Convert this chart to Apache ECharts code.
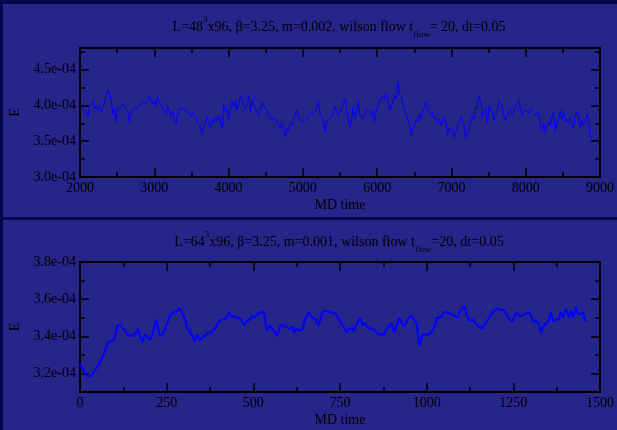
<!DOCTYPE html>
<html>
<head>
<meta charset="utf-8">
<script src="https://cdn.jsdelivr.net/npm/echarts@6/dist/echarts.min.js"></script>
<style>
  html, body { margin: 0; padding: 0; background: #25258a; }
  #chart { width: 617px; height: 430px; }
</style>
</head>
<body>
<div id="chart"></div>
<script>
// upper run: E in units of 1e-4, sampled every ~22.3 MD time units from 2018
const topTimeStart = 2018
const topTimeStep = 22.31
const topEnergy = [
  3.98, 3.95, 3.96, 3.91, 3.84, 3.98, 4.02, 4.07, 3.95, 3.98,
  3.93, 4.00, 3.91, 3.95, 3.93, 4.14, 4.21, 4.16, 4.05, 3.88,
  3.95, 3.77, 3.98, 3.95, 4.00, 3.98, 4.00, 3.95, 3.91, 3.77,
  3.93, 3.91, 3.95, 3.98, 3.95, 4.00, 4.02, 4.05, 4.02, 4.00,
  4.05, 4.14, 4.09, 4.02, 4.07, 3.98, 4.12, 4.05, 4.02, 3.95,
  3.91, 3.88, 4.00, 3.91, 3.86, 3.93, 3.81, 3.73, 3.86, 3.95,
  3.96, 3.95, 3.93, 3.95, 3.91, 3.93, 3.84, 3.91, 3.86, 3.84,
  3.77, 3.79, 3.68, 3.61, 3.72, 3.70,
  3.84, 3.75, 3.68, 3.81, 3.75, 3.84, 3.77, 3.86, 3.75, 3.68,
  4.00, 3.91, 3.95, 3.81, 3.98, 4.05, 3.98, 4.07, 3.93, 3.95,
  4.14, 4.07, 4.05, 3.95, 4.00, 4.14, 3.91, 4.07, 4.00, 3.98,
  3.91, 3.86, 3.93, 4.05, 4.00, 3.98, 3.93, 3.84, 3.81, 3.84,
  3.79, 3.77, 3.81, 3.72, 3.68, 3.75, 3.65, 3.56, 3.68, 3.65,
  3.75, 3.72, 3.81, 3.86, 3.93, 3.84, 3.86, 3.77, 3.75, 3.79,
  3.77, 3.84, 3.88, 3.86, 3.88, 3.91, 3.93, 4.05, 3.88, 3.86,
  3.79, 3.63, 3.77, 3.79, 3.81, 3.84, 3.84, 3.98,
  3.93, 3.86, 3.91, 3.93, 4.00, 4.09, 3.95, 3.81, 3.70, 3.79,
  3.98, 3.81, 3.91, 4.05, 3.86, 3.88, 3.81, 3.88, 3.95, 3.93,
  3.91, 3.84, 3.93, 3.77, 3.93, 3.95, 4.07, 4.05, 4.14, 4.09,
  4.16, 4.07, 3.93, 3.98, 4.05, 4.14, 4.09, 4.32, 4.16, 4.12,
  4.02, 3.93, 3.86, 3.84, 3.75, 3.58, 3.68, 3.72, 3.81, 3.77,
  3.88, 3.81, 3.91, 3.93, 4.05, 3.95, 3.93, 3.86, 3.91, 3.81,
  3.84, 3.75, 3.81, 3.72, 3.77, 3.84, 3.77, 3.58, 3.68, 3.70,
  3.65, 3.54, 3.63, 3.70, 3.77, 3.84, 3.79, 3.70,
  3.54, 3.61, 3.68, 3.79, 3.84, 3.81, 3.98, 3.95, 4.14, 4.05,
  3.84, 3.91, 3.95, 3.75, 3.98, 3.95, 3.91, 3.79, 3.81, 3.95,
  4.07, 4.09, 3.98, 3.84, 3.79, 3.86, 3.91, 3.95, 3.88, 3.86,
  3.98, 4.02, 4.07, 3.95, 3.86, 3.91, 3.91, 3.93, 3.88, 3.95,
  3.93, 3.91, 3.86, 3.91, 3.88, 3.72, 3.65, 3.75, 3.63, 3.70,
  3.77, 3.72, 3.84, 3.91, 3.63, 3.75, 3.81, 3.93, 3.81, 3.91,
  3.77, 3.81, 3.75, 3.84, 3.86, 3.68, 3.86, 3.91, 3.84, 3.70,
  3.79, 3.72, 3.77, 3.88, 3.81, 3.56, 3.54
]

// lower run: MD time and E (units of 1e-4)
const bottomTime = [
  1, 6, 15, 25, 30, 34, 44, 54, 60, 68, 76, 82, 87, 97, 101, 108, 116, 120, 130, 140,
  147, 154, 162, 168, 173, 180, 187, 194, 202, 209, 219, 226, 230, 238, 245, 251, 259, 269, 278, 286,
  291, 297, 305, 310, 316, 324, 331, 338, 345, 350, 359, 369, 379, 388, 398, 407, 417, 424, 429, 436,
  443, 448, 455, 465, 474, 481, 489, 496, 503, 512, 522, 530, 534, 539, 549, 555, 563, 570, 577, 584,
  594, 603, 613, 618, 625, 632, 642, 649, 659, 665, 672, 680, 687, 694, 699, 708, 718, 727, 737,
  751, 761, 769, 775, 782, 790, 799, 809, 816, 823, 830, 836, 842, 852, 861, 871, 877, 885, 893, 899,
  907, 914, 920, 926, 933, 939, 947, 957, 963, 971, 978, 982, 988, 998, 1007, 1017, 1024, 1030, 1040, 1049,
  1059, 1068, 1081, 1090, 1097, 1110, 1116, 1124, 1132, 1138, 1145, 1153, 1160, 1169, 1177, 1186, 1196, 1205, 1215, 1224,
  1232, 1240, 1248, 1258, 1265, 1275, 1284, 1294, 1301, 1307, 1315, 1323, 1330, 1336, 1344, 1351, 1358, 1365, 1372, 1380,
  1387, 1393, 1401, 1406, 1411, 1417, 1423, 1430, 1437, 1444, 1451, 1458
]
const bottomEnergy = [
  3.25, 3.23, 3.20, 3.18, 3.17, 3.19, 3.22, 3.25, 3.27, 3.30, 3.34, 3.37, 3.38, 3.38, 3.40, 3.46, 3.46, 3.46, 3.43, 3.40,
  3.41, 3.40, 3.42, 3.44, 3.40, 3.37, 3.41, 3.40, 3.38, 3.41, 3.49, 3.44, 3.40, 3.41, 3.44, 3.47, 3.51, 3.53, 3.53, 3.55,
  3.56, 3.52, 3.48, 3.44, 3.43, 3.40, 3.37, 3.41, 3.38, 3.37, 3.40, 3.42, 3.42, 3.44, 3.47, 3.49, 3.49, 3.51, 3.53, 3.50,
  3.51, 3.52, 3.50, 3.49, 3.46, 3.48, 3.49, 3.51, 3.50, 3.52, 3.53, 3.53, 3.48, 3.43, 3.46, 3.44, 3.42, 3.40, 3.46, 3.46,
  3.45, 3.44, 3.45, 3.42, 3.44, 3.43, 3.44, 3.49, 3.53, 3.51, 3.50, 3.49, 3.46, 3.49, 3.53, 3.54, 3.53, 3.53, 3.52,
  3.48, 3.45, 3.42, 3.44, 3.44, 3.43, 3.47, 3.50, 3.46, 3.47, 3.45, 3.44, 3.44, 3.43, 3.41, 3.41, 3.41, 3.44, 3.46, 3.47,
  3.42, 3.46, 3.50, 3.48, 3.46, 3.46, 3.50, 3.51, 3.49, 3.47, 3.35, 3.37, 3.41, 3.41, 3.41, 3.43, 3.46, 3.50, 3.50, 3.53,
  3.53, 3.52, 3.51, 3.50, 3.54, 3.56, 3.51, 3.48, 3.49, 3.48, 3.46, 3.45, 3.44, 3.47, 3.49, 3.52, 3.54, 3.55, 3.54, 3.54,
  3.51, 3.49, 3.48, 3.53, 3.51, 3.51, 3.52, 3.53, 3.51, 3.48, 3.48, 3.47, 3.42, 3.45, 3.47, 3.48, 3.53, 3.48, 3.49, 3.49,
  3.53, 3.50, 3.55, 3.53, 3.50, 3.54, 3.50, 3.56, 3.52, 3.52, 3.53, 3.48
]

const FONT = '"Liberation Serif", "DejaVu Serif", serif'
const INK = '#000000'

var chart = echarts.init(document.getElementById('chart'), null, { renderer: 'canvas' })

function xAxisOf(grid, min, max, interval, mirror) {
  return {
    type: 'value', gridIndex: grid, min: min, max: max, interval: interval,
    position: mirror ? 'top' : 'bottom',
    name: mirror ? '' : 'MD time',
    nameLocation: 'middle',
    nameGap: 21,
    nameTextStyle: { color: INK, fontFamily: FONT, fontSize: 14 },
    axisLine: { show: true, onZero: false, lineStyle: { color: INK, width: 2 } },
    axisTick: { show: true, inside: true, length: 9, lineStyle: { color: INK, width: 1.5 } },
    minorTick: { show: true, splitNumber: 2, length: 5, lineStyle: { color: INK, width: 1.5 } },
    axisLabel: {
      show: !mirror, color: INK, fontFamily: FONT, fontSize: 14, margin: 4,
      formatter: function(v) { return String(v) }
    },
    splitLine: { show: false }
  }
}

// step: label every `step` tenths (5 -> 0.5e-4, 2 -> 0.2e-4)
function yAxisOf(grid, min, max, extra, step, mirror) {
  return Object.assign({
    type: 'value', gridIndex: grid, min: min, max: max,
    position: mirror ? 'right' : 'left',
    name: mirror ? '' : 'E',
    nameLocation: 'middle',
    nameGap: 58,
    nameTextStyle: { color: INK, fontFamily: FONT, fontSize: 14 },
    axisLine: { show: true, onZero: false, lineStyle: { color: INK, width: 2 } },
    axisTick: { show: true, inside: true, length: 9, lineStyle: { color: INK, width: 1.5 } },
    minorTick: { show: true, splitNumber: 2, length: 5, lineStyle: { color: INK, width: 1.5 } },
    axisLabel: {
      show: !mirror, color: INK, fontFamily: FONT, fontSize: 14, margin: 4,
      formatter: function(v) {
        var tenths = Math.round(v * 10)
        if (tenths % step !== 0 || Math.abs(v * 10 - tenths) > 1e-6) return ''
        return v.toFixed(1) + 'e-04'
      }
    },
    splitLine: { show: false }
  }, extra)
}

const titleRich = {
  t: { fontFamily: FONT, fontSize: 14, fontWeight: 'normal', color: INK, lineHeight: 24 },
  sup: { fontFamily: FONT, fontSize: 9, fontWeight: 'normal', color: INK, lineHeight: 12, verticalAlign: 'top' },
  sub: { fontFamily: FONT, fontSize: 9, fontWeight: 'normal', color: INK, lineHeight: 10, verticalAlign: 'bottom' }
}

var topData = topEnergy.map(function(e, i) { return [topTimeStart + i * topTimeStep, e] })
var bottomData = bottomTime.map(function(t, i) { return [t, bottomEnergy[i]] })

chart.setOption({
  backgroundColor: '#25258a',
  animation: false,
  graphic: [
    { type: 'rect', shape: { x: 0, y: 0, width: 617, height: 4 }, style: { fill: '#06064e' } },
    { type: 'rect', shape: { x: 0, y: 0, width: 3, height: 430 }, style: { fill: '#06064e' } },
    { type: 'rect', shape: { x: 0, y: 217, width: 617, height: 3 }, style: { fill: '#06064e' } }
  ],
  title: [
    {
      left: 339, top: 15, textAlign: 'center', padding: 0,
      text: '{t|L=48}{sup|3}{t|x96, β=3.25, m=0.002, wilson flow t}{sub|flow}{t|= 20, dt=0.05}',
      textStyle: { fontWeight: 'normal', rich: titleRich }
    },
    {
      left: 339, top: 230, textAlign: 'center', padding: 0,
      text: '{t|L=64}{sup|3}{t|x96, β=3.25, m=0.001, wilson flow t}{sub|flow}{t|=20, dt=0.05}',
      textStyle: { fontWeight: 'normal', rich: titleRich }
    }
  ],
  grid: [
    { left: 78, right: 16, top: 48, height: 129 },
    { left: 78, right: 16, top: 262, height: 130 }
  ],
  xAxis: [
    xAxisOf(0, 2000, 9000, 1000, false),
    xAxisOf(0, 2000, 9000, 1000, true),
    xAxisOf(1, 0, 1500, 250, false),
    xAxisOf(1, 0, 1500, 250, true)
  ],
  yAxis: [
    yAxisOf(0, 3.0, 4.8, { interval: 0.5 }, 5, false),
    yAxisOf(0, 3.0, 4.8, { interval: 0.5 }, 5, true),
    yAxisOf(1, 3.1, 3.8, { splitNumber: 4 }, 2, false),
    yAxisOf(1, 3.1, 3.8, { splitNumber: 4 }, 2, true)
  ],
  series: [
    {
      type: 'line', xAxisIndex: 0, yAxisIndex: 0, data: topData,
      showSymbol: false, lineStyle: { color: '#0000ff', width: 1 }, clip: true
    },
    {
      type: 'line', xAxisIndex: 2, yAxisIndex: 2, data: bottomData,
      showSymbol: false, lineStyle: { color: '#0000ff', width: 2 }, clip: true
    }
  ]
})
</script>
</body>
</html>
